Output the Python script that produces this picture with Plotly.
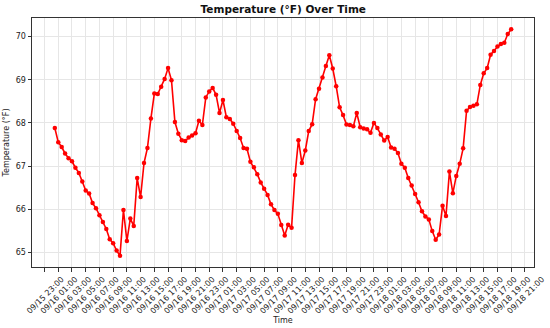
import pandas as pd
import plotly.graph_objects as go

start_time = "2024-09-16 00:30"
interval = "30min"
temps_f = [
    67.88, 67.55, 67.44, 67.29, 67.18, 67.11, 66.96, 66.84, 66.64, 66.43,
    66.36, 66.14, 66.02, 65.86, 65.70, 65.54, 65.30, 65.21, 65.04, 64.92,
    65.98, 65.26, 65.78, 65.61, 66.72, 66.28, 67.07, 67.42, 68.10, 68.68,
    68.67, 68.84, 69.02, 69.27, 68.99, 68.02, 67.75, 67.60, 67.58, 67.66,
    67.71, 67.76, 68.05, 67.95, 68.59, 68.73, 68.81, 68.65, 68.23, 68.53,
    68.13, 68.09, 67.98, 67.81, 67.65, 67.42, 67.40, 67.10, 66.97, 66.81,
    66.62, 66.47, 66.33, 66.11, 65.98, 65.89, 65.63, 65.39, 65.64, 65.57,
    66.79, 67.60, 67.07, 67.36, 67.81, 67.97, 68.55, 68.79, 69.05, 69.32,
    69.57, 69.26, 68.85, 68.36, 68.18, 67.96, 67.95, 67.92, 68.23, 67.90,
    67.87, 67.85, 67.77, 68.00, 67.88, 67.73, 67.59, 67.67, 67.43, 67.40,
    67.30, 67.05, 66.96, 66.72, 66.55, 66.35, 66.16, 65.95, 65.83, 65.76,
    65.49, 65.29, 65.41, 66.08, 65.84, 66.87, 66.37, 66.77, 67.05, 67.41,
    68.28, 68.37, 68.40, 68.43, 68.88, 69.15, 69.27, 69.58, 69.67, 69.77,
    69.83, 69.86, 70.06, 70.17,
]
times = pd.date_range(start_time, periods=len(temps_f), freq=interval)

x_tick_times = pd.date_range("2024-09-15 23:00", "2024-09-18 21:00", freq="2h")
x_tick_labels = [t.strftime("%m/%d %H:%M") for t in x_tick_times]
y_ticks = [65, 66, 67, 68, 69, 70]

# matplotlib-like 5% margins
span = times[-1] - times[0]
x_range = [times[0] - span * 0.05, times[-1] + span * 0.05]
ymin, ymax = min(temps_f), max(temps_f)
ypad = (ymax - ymin) * 0.05
y_range = [ymin - ypad, ymax + ypad]

font = "DejaVu Sans"
fig = go.Figure()
fig.add_trace(go.Scatter(
    x=times, y=temps_f, mode="lines+markers",
    line=dict(color="#ff0000", width=1.6),
    marker=dict(color="#ff0000", size=4.5),
    showlegend=False,
))
fig.update_layout(
    width=550, height=328,
    margin=dict(l=32, r=16, t=18, b=61, autoexpand=False),
    paper_bgcolor="white", plot_bgcolor="white",
    font=dict(family=font, size=8, color="#222"),
    title=dict(text="<b>Temperature (°F) Over Time</b>", x=0.515, xanchor="center",
               y=0.972, yanchor="middle", font=dict(family=font, size=10.5, color="#111")),
)
fig.update_xaxes(
    type="date", range=x_range,
    tickmode="array", tickvals=list(x_tick_times), ticktext=x_tick_labels,
    tickangle=-45, ticklabelshift=17,
    showgrid=True, gridcolor="#e6e6e6", gridwidth=1,
    ticks="outside", ticklen=3.5, tickcolor="#333", tickwidth=0.8,
    showline=True, linecolor="#333", linewidth=1, mirror=True,
    zeroline=False, automargin=False,
    title=dict(text="Time", font=dict(family=font, size=8), standoff=1),
    tickfont=dict(family=font, size=8, color="#222"),
)
fig.update_yaxes(
    range=y_range, tickvals=y_ticks,
    showgrid=True, gridcolor="#e6e6e6", gridwidth=1,
    ticks="outside", ticklen=3.5, tickcolor="#333", tickwidth=0.8,
    showline=True, linecolor="#333", linewidth=1, mirror=True,
    zeroline=False, automargin=False,
    title=dict(text="Temperature (°F)", font=dict(family=font, size=8), standoff=4),
    tickfont=dict(family=font, size=8, color="#222"),
)
fig.write_html("out.html")
